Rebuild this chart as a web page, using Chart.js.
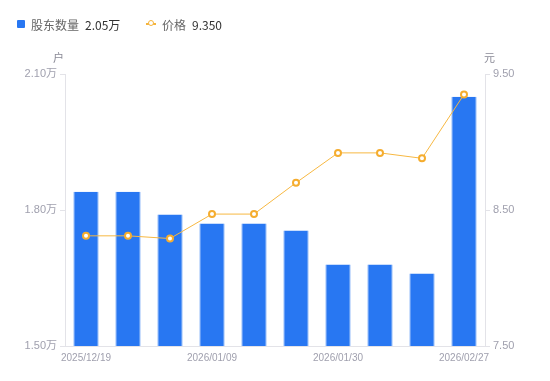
<!DOCTYPE html>
<html>
<head>
<meta charset="utf-8">
<script src="https://cdn.jsdelivr.net/npm/chart.js"></script>
<style>
    html, body { margin: 0; padding: 0; background: #fff; }
    #wrap { position: relative; width: 550px; height: 381px; overflow: hidden; }
    #chart { position: absolute; left: 0; top: 0; }
    .legend { position: absolute; top: 16px; left: 17px; font: 12px "Noto Sans CJK SC", "Liberation Sans", sans-serif; color: #666; white-space: nowrap; }
    .legend span { position: absolute; top: 0; }
    .legend .val { color: #333; }
    .unit { position: absolute; top: 49px; font: 11px "Noto Sans CJK SC", sans-serif; color: #8a8a96; }
</style>
</head>
<body>
<div id="wrap">
    <canvas id="chart" width="550" height="381"></canvas>
    <div class="legend">
        <span style="left:0;top:4px;width:8px;height:8px;background:#2877f2;border-radius:1px;"></span>
        <span style="left:14px;">股东数量</span>
        <span class="val" style="left:68px;">2.05万</span>
        <span style="left:129px;top:7px;width:10px;height:2px;background:#f5b43c;"></span>
        <span style="left:131px;top:4px;width:4px;height:4px;border:1.5px solid #f5b43c;border-radius:50%;background:#fff;"></span>
        <span style="left:145px;">价格</span>
        <span class="val" style="left:175px;">9.350</span>
    </div>
    <div class="unit" style="left:53px;">户</div>
    <div class="unit" style="left:484px;">元</div>
</div>
<script>
// 数据
var dates = ['2025/12/19', '2025/12/26', '2026/01/02', '2026/01/09', '2026/01/16',
             '2026/01/23', '2026/01/30', '2026/02/10', '2026/02/20', '2026/02/27'];
var holders = [1.84, 1.84, 1.79, 1.77, 1.77, 1.755, 1.68, 1.68, 1.66, 2.05]; // 万户
var prices = [8.31, 8.31, 8.29, 8.47, 8.47, 8.70, 8.92, 8.92, 8.88, 9.35];   // 元
var holderTicks = [1.5, 1.8, 2.1];
var priceTicks = [7.5, 8.5, 9.5];

var axisColor = '#e3e3e8';
var tickColor = '#a0a0ae';
var font = { family: "'Liberation Sans', 'Noto Sans CJK SC', sans-serif", size: 11 };

function fixWidth(w) {
    return function(scale) { scale.width = w; };
}

var chart = new Chart(document.getElementById('chart'), {
    type: 'bar',
    data: {
        labels: dates,
        datasets: [{
            type: 'line',
            label: '价格',
            data: prices,
            yAxisID: 'y1',
            order: 0,
            borderColor: '#f7b842',
            borderWidth: 1,
            pointRadius: 3,
            pointBorderWidth: 2,
            pointBackgroundColor: '#fff',
            pointBorderColor: '#f5ad2f',
            tension: 0
        }, {
            type: 'bar',
            label: '股东数量',
            data: holders,
            yAxisID: 'y',
            order: 1,
            backgroundColor: '#2877f2',
            borderColor: '#6ea3f6',
            borderWidth: { left: 1, right: 1, top: 0 },
            borderSkipped: 'bottom',
            barPercentage: 0.6,
            categoryPercentage: 1
        }]
    },
    options: {
        responsive: false,
        animation: false,
        layout: { padding: { top: 74, left: 0, right: 0, bottom: 0 } },
        plugins: { legend: { display: false }, tooltip: { enabled: false } },
        scales: {
            x: {
                offset: true,
                afterFit: function(scale) { scale.height = 35; },
                ticks: {
                    color: tickColor,
                    font: { family: font.family, size: 10 },
                    padding: 6,
                    maxRotation: 0,
                    autoSkip: false,
                    // 每隔3个显示一个日期
                    callback: function(v, i) { return i % 3 === 0 ? dates[i] : ''; }
                },
                grid: { display: false, drawTicks: false },
                border: { display: true, color: axisColor, width: 1 }
            },
            y: {
                position: 'left',
                min: 1.5,
                max: 2.1,
                afterFit: fixWidth(65),
                afterBuildTicks: function(scale) {
                    scale.ticks = holderTicks.map(function(v) { return { value: v }; });
                },
                ticks: {
                    color: tickColor,
                    font: font,
                    padding: 3,
                    callback: function(v) { return v.toFixed(2) + '万'; }
                },
                grid: { drawOnChartArea: false, drawTicks: true, tickLength: 5, color: axisColor },
                border: { display: true, color: axisColor }
            },
            y1: {
                position: 'right',
                min: 7.5,
                max: 9.5,
                afterFit: fixWidth(65),
                afterBuildTicks: function(scale) {
                    scale.ticks = priceTicks.map(function(v) { return { value: v }; });
                },
                ticks: {
                    color: tickColor,
                    font: font,
                    padding: 3,
                    callback: function(v) { return v.toFixed(2); }
                },
                grid: { drawOnChartArea: false, drawTicks: true, tickLength: 5, color: axisColor },
                border: { display: true, color: axisColor }
            }
        }
    }
});
</script>
</body>
</html>
